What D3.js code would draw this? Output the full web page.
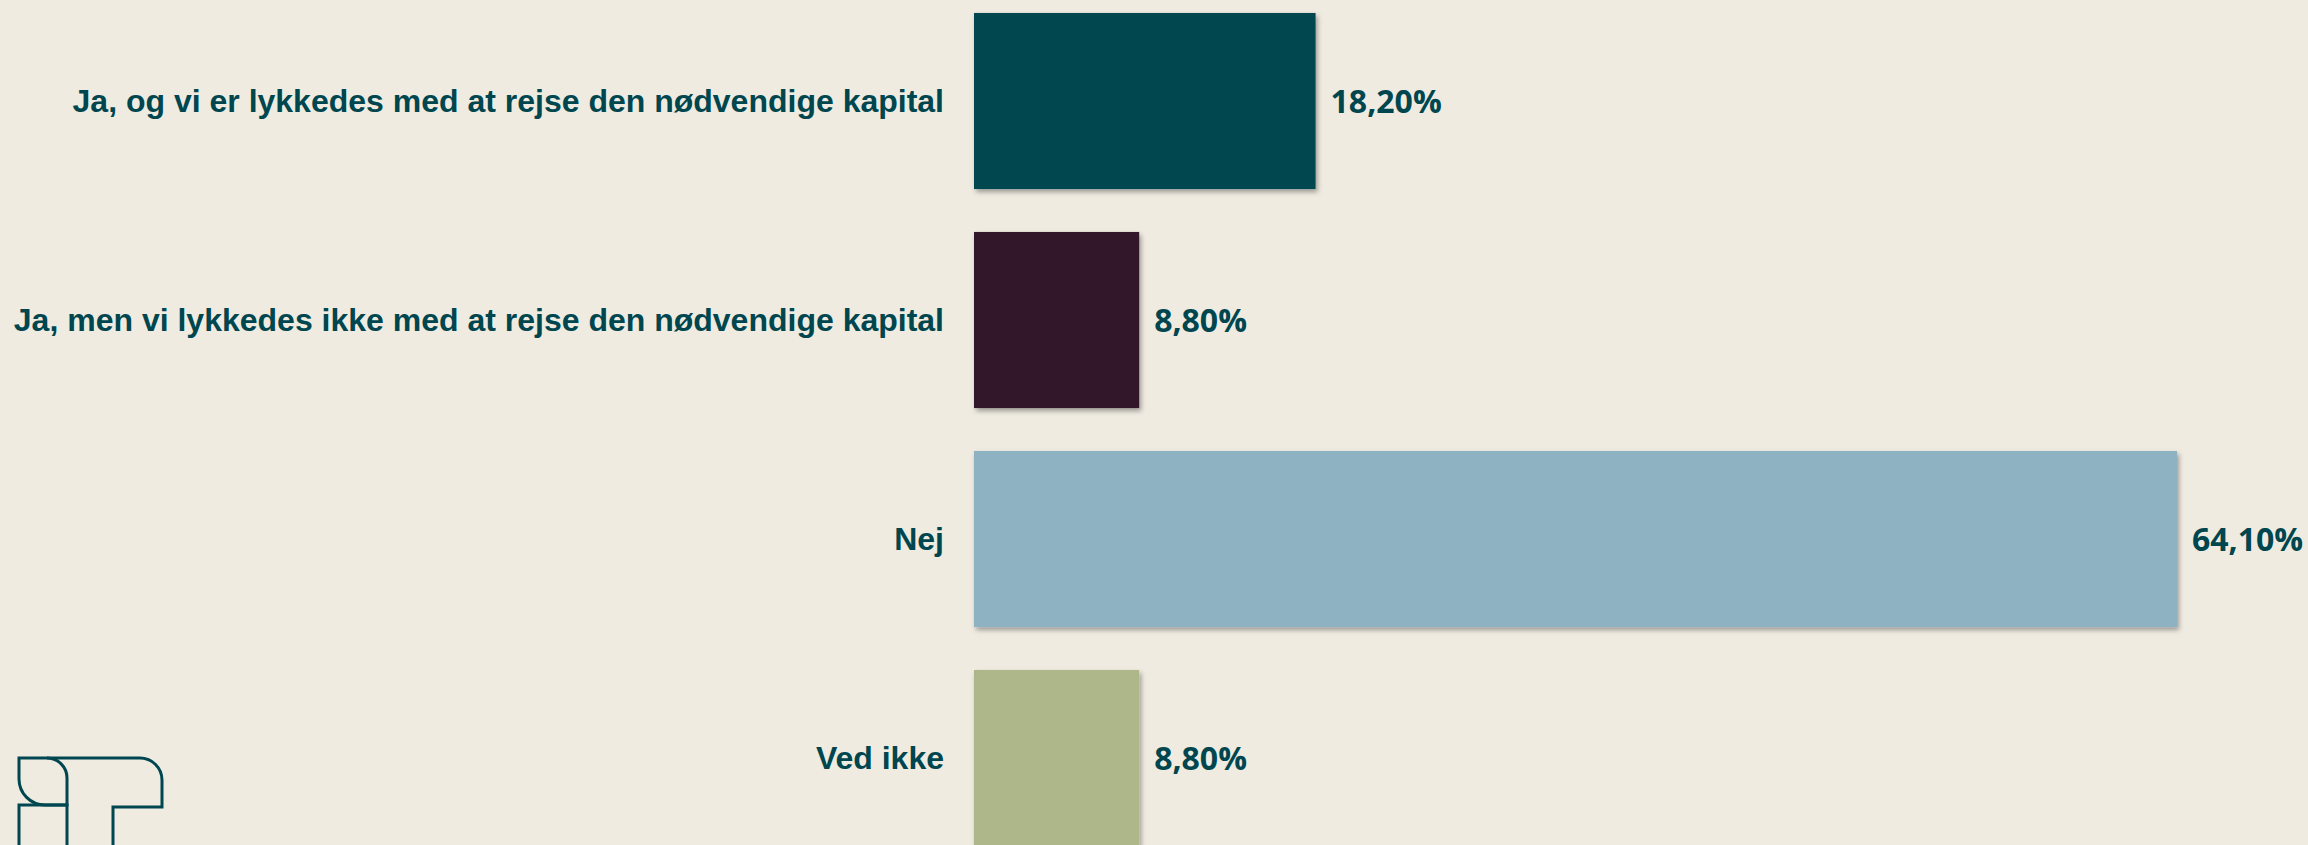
<!DOCTYPE html>
<html>
<head>
<meta charset="utf-8">
<script src="https://cdn.jsdelivr.net/npm/d3@7"></script>
<style>
  html, body { margin: 0; padding: 0; background: #efebe1; overflow: hidden; }
  svg { display: block; }
</style>
</head>
<body>
<svg id="chart" width="2308" height="845"></svg>
<script>
const categories = [
  'Ja, og vi er lykkedes med at rejse den nødvendige kapital',
  'Ja, men vi lykkedes ikke med at rejse den nødvendige kapital',
  'Nej',
  'Ved ikke'
]
const values = [18.2, 8.8, 64.1, 8.8]
const valueLabels = ['18,20%', '8,80%', '64,10%', '8,80%']
const colors = ['#004650', '#31192b', '#8fb2c3', '#adb78a']

const textColor = '#00464f'
const svg = d3.select('#chart')

// drop shadow like the office chart
const defs = svg.append('defs')
defs.append('filter')
  .attr('id', 'shadow')
  .attr('x', '-5%').attr('y', '-5%')
  .attr('width', '115%').attr('height', '120%')
  .append('feDropShadow')
  .attr('dx', 2).attr('dy', 3)
  .attr('stdDeviation', 2.5)
  .attr('flood-color', '#000')
  .attr('flood-opacity', 0.35)

let x = d3.scaleLinear().domain([0, 64.1]).range([974, 2177])
let y = d3.scaleBand().domain(categories).range([-8.5, 867.5])
  .paddingInner(0.196).paddingOuter(0.098)

svg.selectAll('rect.bar')
  .data(values)
  .enter().append('rect')
  .attr('class', 'bar')
  .attr('x', x(0))
  .attr('y', (d, i) => y(categories[i]))
  .attr('width', d => x(d) - x(0))
  .attr('height', y.bandwidth())
  .attr('fill', (d, i) => colors[i])
  .attr('filter', 'url(#shadow)')

// category labels, right aligned left of bars
let yAxis = svg.append('g')
  .attr('transform', `translate(${x(0) - 30},0)`)
  .call(d3.axisLeft(y).tickSize(0).tickPadding(0))
yAxis.select('.domain').remove()
yAxis.selectAll('text')
  .attr('fill', textColor)
  .attr('font-family', 'Liberation Sans, Arial, sans-serif')
  .attr('font-weight', 'bold')
  .attr('font-size', 32)
  .attr('dy', '0.35em')

svg.selectAll('text.val')
  .data(values)
  .enter().append('text')
  .attr('class', 'val')
  .attr('x', d => x(d) + 15)
  .attr('y', (d, i) => y(categories[i]) + y.bandwidth() / 2)
  .attr('dy', '0.36em')
  .attr('fill', textColor)
  .attr('font-family', 'Open Sans, sans-serif')
  .attr('font-weight', 'bold')
  .attr('font-size', 32)
  .text((d, i) => valueLabels[i])

// logo outline, bottom left
let logo = svg.append('g')
  .attr('fill', 'none')
  .attr('stroke', '#004650')
  .attr('stroke-width', 3)
logo.append('path').attr('d', 'M19,758 H47 A20,20 0 0 1 67,778 V805 H45 A26,26 0 0 1 19,779 Z')
logo.append('path').attr('d', 'M19,850 V805 H67 V850')
logo.append('path').attr('d', 'M47,758 H140 A22,22 0 0 1 162,780 V807 H113 V850')
</script>
</body>
</html>
